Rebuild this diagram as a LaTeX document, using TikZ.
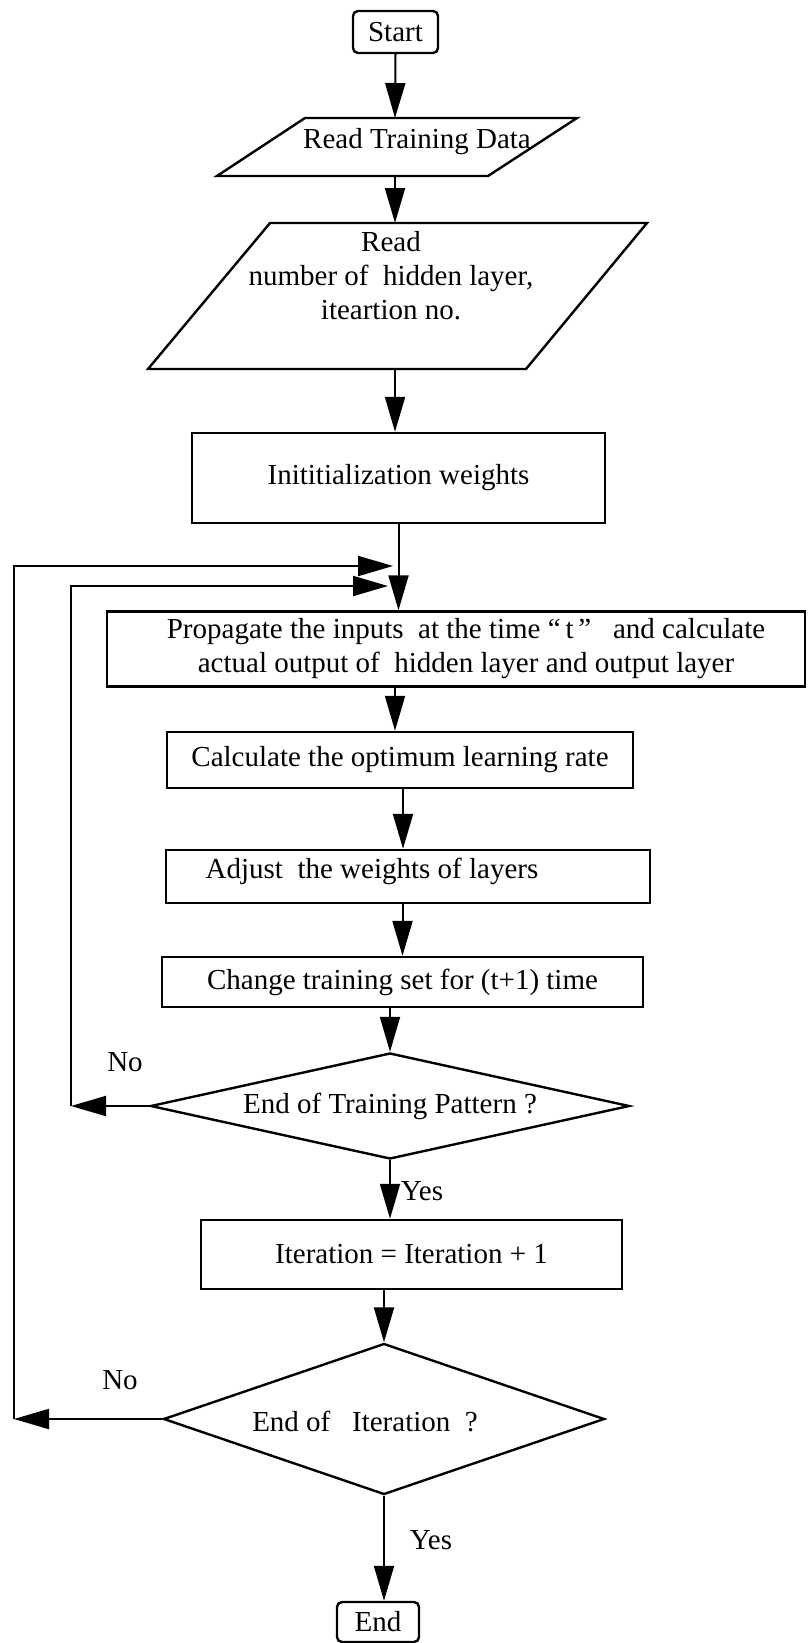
\documentclass[tikz,border=0pt]{standalone}
\usepackage{fontspec}
\setmainfont{Liberation Serif}
\usetikzlibrary{arrows.meta,shapes.geometric,positioning}

\tikzset{
  box/.style={draw, line width=2.4pt, rectangle, inner sep=0pt},
  term/.style={box, rounded corners=5pt},
  decision/.style={draw, line width=2.4pt, diamond, inner sep=0pt},
  arr/.style={line width=2pt, -{Triangle[length=35pt,width=20pt]}},
  lbl/.style={inner sep=0pt},
}

\begin{document}
\begin{tikzpicture}[x=1pt, y=-1pt, font=\fontsize{29}{34}\selectfont]
  \useasboundingbox (0,0) rectangle (807,1643);

  \node[term, minimum width=85pt, minimum height=42pt] (start) at (395.5,32) {Start};

  % read training data
  \draw[line width=2.4pt] (305,118) -- (577,118) -- (488,176) -- (217,176) -- cycle;
  \coordinate (rd1n) at (395,118);
  \coordinate (rd1s) at (395,176);
  \node[lbl] (rd1) at (417,142) {Read Training Data};

  % read parameters
  \draw[line width=2.4pt] (270,223) -- (647,223) -- (526,369) -- (148,369) -- cycle;
  \coordinate (rd2n) at (395,223);
  \coordinate (rd2s) at (395,369);
  \node[lbl, align=center] (rd2) at (391,276) {Read\\number of\ \ hidden layer,\\iteartion no.};

  \node[box, minimum width=413pt, minimum height=90pt] (init) at (398.5,478) {Inititialization weights};
  \node[box, minimum width=698pt, minimum height=75pt, align=center] (prop) at (456,649)
    {\hspace*{20pt}Propagate the inputs\ \ at the time “\,t\,”\ \ \ and calculate\\\hspace*{20pt}actual output of\ \ hidden layer and output layer};
  \node[box, minimum width=466pt, minimum height=56pt] (calc) at (400,760) {Calculate the optimum\ learning rate};
  \node[box, minimum width=484pt, minimum height=53pt] (adj) at (408,876.5) {};
  \node[lbl] (adjtxt) at (372,871) {Adjust\ \ the weights of layers};
  \node[box, minimum width=481pt, minimum height=50pt] (chg) at (402.5,982) {Change training set for (t+1) time};
  \node[decision, minimum width=479pt, minimum height=106pt, aspect=4.5] (tp) at (390,1106) {End of Training Pattern ?};
  \node[box, minimum width=421pt, minimum height=69pt] (iter) at (411.5,1254.5) {Iteration = Iteration + 1};
  \node[decision, minimum width=441pt, minimum height=151pt, aspect=2.9] (it) at (384,1419) {};
  \node[lbl] (ittxt) at (365,1421) {End of\ \ \ Iteration\ \ ?};
  \node[term, minimum width=82pt, minimum height=40pt] (end) at (378,1622) {End};

  % main flow
  \draw[arr] (start.south) -- (rd1n);
  \draw[arr] (rd1s) -- (rd2n);
  \draw[arr] (rd2s) -- (rd2s |- init.north);
  \draw[arr] (init.south) -- (init.south |- prop.north);
  \draw[arr] (prop.south -| rd2s) -- (rd2s |- calc.north);
  \draw[arr] (calc.south -| 403,0) -- (403,0 |- adj.north);
  \draw[arr] (adj.south -| chg.north) -- (chg.north);
  \draw[arr] (chg.south -| tp.north) -- (tp.north);
  \draw[arr] (tp.south) -- (tp.south |- iter.north);
  \draw[arr] (iter.south -| it.north) -- (it.north);
  \draw[arr] (it.south) -- (it.south |- end.north);

  % loops back
  \coordinate (no1) at (71,1106);
  \coordinate (in1) at (388,586);
  \coordinate (no2) at (14,1419);
  \coordinate (in2) at (393,566);
  \draw[arr] (tp.west) -- (no1);
  \draw[arr] (no1) |- (in1);
  \draw[arr] (it.west) -- (no2);
  \draw[arr] (no2) |- (in2);

  \node[lbl] (nolbl1) at (125,1062) {No};
  \node[lbl] (yeslbl1) at (422,1191) {Yes};
  \node[lbl] (nolbl2) at (120,1380) {No};
  \node[lbl] (yeslbl2) at (431,1540) {Yes};
\end{tikzpicture}
\end{document}
